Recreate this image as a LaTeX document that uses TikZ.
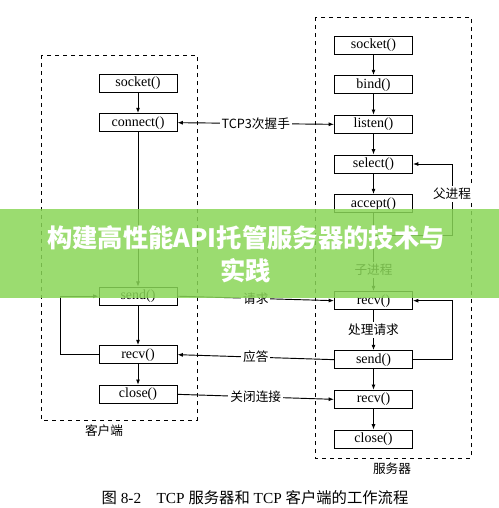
\documentclass[tikz,border=0pt]{standalone}
\usepackage{fontspec}
\setmainfont{Liberation Serif}
\newfontfamily\cjk{Noto Sans CJK SC}
\usetikzlibrary{arrows.meta,positioning,calc}
\definecolor{bannergreen}{RGB}{138,214,88}

\begin{document}
\begin{tikzpicture}[
  x=0.75pt,y=-0.75pt,
  font=\fontsize{10.5}{12}\selectfont,
  node distance=15.5pt,
  box/.style={draw,line width=0.75pt,minimum width=58.5pt,minimum height=13.5pt,inner sep=1pt},
  grp/.style={draw,dashed,line width=0.75pt},
  lbl/.style={fill=white,inner sep=1.5pt,font=\cjk\fontsize{9.5}{11}\selectfont},
  arr/.style={-{Latex[length=4pt,width=3pt]},line width=0.7pt},
  dbl/.style={{Latex[length=4pt,width=3pt]}-{Latex[length=4pt,width=3pt]},line width=0.7pt},
]
\path[use as bounding box,fill=white] (0,0) rectangle (499,508);

% client side
\draw[grp] (41,55) rectangle (197,420);
\node[box] (csock) at (138,83) {socket()};
\node[box,below=of csock] (ccon) {connect()};
\node[box,below=115.9pt of ccon] (csend) {send()};
\node[box,below=29.6pt of csend] (crecv) {recv()};
\node[box,below=of crecv] (cclose) {close()};
\node[lbl] (cname) at (104,431) {客户端};

% server side
\draw[grp] (315,17) rectangle (471,458);
\node[box] (ssock) at (373.5,45) {socket()};
\node[box,below=of ssock] (sbind) {bind()};
\node[box,below=of sbind] (slisten) {listen()};
\node[box,below=of slisten] (ssel) {select()};
\node[box,below=of ssel] (sacc) {accept()};
\node[box,below=58.5pt of sacc] (srecv) {recv()};
\node[box,below=30pt of srecv] (ssend) {send()};
\node[box,below=of ssend] (srecvb) {recv()};
\node[box,below=of srecvb] (sclose) {close()};
\node[lbl] (sname) at (392,469) {服务器};

% client flow
\draw[arr] (csock) -- (ccon);
\draw[arr] (ccon) -- (csend);
\draw[arr] (csend) -- (crecv);
\draw[arr] (crecv) -- (cclose);
\draw[arr] (crecv.west) -- ++(-38,0) |- (csend.west);

% server flow
\draw[arr] (ssock) -- (sbind);
\draw[arr] (sbind) -- (slisten);
\draw[arr] (slisten) -- (ssel);
\draw[arr] (ssel) -- (sacc);
\draw[arr] (sacc) -- node[lbl,pos=0.73]{子进程} (srecv);
\draw[arr] (srecv) -- node[lbl]{处理请求} (ssend);
\draw[arr] (ssend) -- (srecvb);
\draw[arr] (srecvb) -- (sclose);
\draw[arr] (ssend.east) -- ++(39,0) |- (srecv.east);
\coordinate (fork) at ($(sacc.south)+(0,22)$);
\coordinate (ploop) at (452,0);
\draw[arr] (fork) -- (fork -| ploop) -- node[lbl,pos=0.58]{父进程} (ploop |- ssel) -- (ssel.east);

% messages
\draw[dbl] (ccon.east) -- node[lbl]{TCP3{\cjk 次握手}} (slisten.west);
\draw[arr] (csend.east) -- node[lbl]{请求} (srecv.west);
\draw[arr] (ssend.west) -- node[lbl]{应答} (crecv.east);
\draw[arr] (cclose.east) -- node[lbl]{关闭连接} (srecvb.west);

% caption
\node[font=\fontsize{11.5}{13}\selectfont] (cap) at (255,498)
  {{\cjk 图} 8-2\quad TCP {\cjk 服务器和} TCP {\cjk 客户端的工作流程}};

% banner
\fill[bannergreen,opacity=0.85] (0,209) rectangle (499,298);
\node[font=\cjk\bfseries\fontsize{19}{25}\selectfont,text=white,align=center] (ttl) at (246,254)
  {构建高性能API托管服务器的技术与\\实践};
\end{tikzpicture}
\end{document}
